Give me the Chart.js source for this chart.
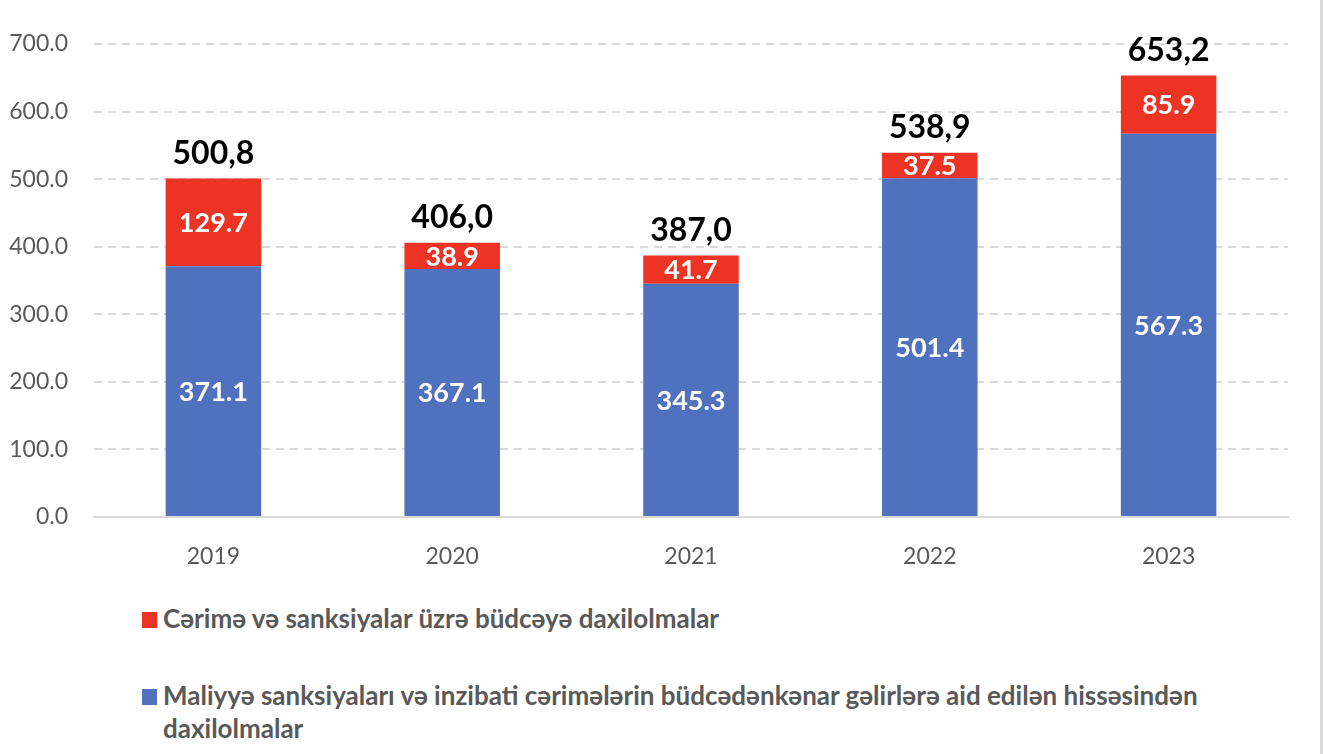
<!DOCTYPE html>
<html>
<head>
<meta charset="utf-8">
<script src="https://cdn.jsdelivr.net/npm/chart.js@4/dist/chart.umd.min.js"></script>
<style>
  body { margin: 0; background: #fff; font-family: Lato, "Open Sans", sans-serif; }
  #wrap { position: relative; width: 1323px; height: 754px; overflow: hidden; }
  #box { position: absolute; left: 0; top: 0; width: 1323px; height: 580px; }
  #edge { position: absolute; left: 1320px; top: 0; width: 3px; height: 754px; background: #d9d9d9; }
  .leg { position: absolute; left: 142px; color: #595959; font-weight: bold; font-size: 26px; line-height: 33px; white-space: nowrap; }
  .leg i { display: inline-block; width: 15px; height: 16px; margin-right: 6px; vertical-align: 0px; }
</style>
</head>
<body>
<div id="wrap">
  <div id="box"><canvas id="chart"></canvas></div>
  <div id="edge"></div>
  <div class="leg" style="top:602px"><i style="background:#EC3324"></i>Cərimə və sanksiyalar üzrə büdcəyə daxilolmalar</div>
  <div class="leg" style="top:679px"><i style="background:#5071BE"></i>Maliyyə sanksiyaları və inzibati cərimələrin büdcədənkənar gəlirlərə aid edilən hissəsindən<br><span style="padding-left:21px">daxilolmalar</span></div>
</div>
<script>
// illər
const years = ['2019', '2020', '2021', '2022', '2023'];
// büdcədənkənar gəlirlər (mavi)
const blueValues = [371.1, 367.1, 345.3, 501.4, 567.3];
// cərimə və sanksiyalar (qırmızı)
const redValues = [129.7, 38.9, 41.7, 37.5, 85.9];
const blueName = 'Maliyyə sanksiyaları və inzibati cərimələrin büdcədənkənar gəlirlərə aid edilən hissəsindən daxilolmalar';
const redName = 'Cərimə və sanksiyalar üzrə büdcəyə daxilolmalar';

const labelPlugin = {
  id: 'barLabels',
  afterDatasetsDraw: function(chart) {
    const ctx = chart.ctx;
    ctx.save();
    ctx.textAlign = 'center';
    ctx.textBaseline = 'middle';
    ctx.fillStyle = '#fff';
    ctx.font = 'bold 27px Lato, "Open Sans", sans-serif';
    chart.data.datasets.forEach((ds, i) => {
      chart.getDatasetMeta(i).data.forEach((bar, j) => {
        const mid = (bar.y + bar.base) / 2;
        ctx.fillText(ds.data[j].toFixed(1), bar.x, mid + 1);
      });
    });
    // cəm yuxarıda
    ctx.fillStyle = '#000';
    ctx.font = 'bold 32px Lato, "Open Sans", sans-serif';
    ctx.textBaseline = 'bottom';
    const top = chart.getDatasetMeta(1).data;
    top.forEach((bar, j) => {
      const total = (blueValues[j] + redValues[j]).toFixed(1).replace('.', ',');
      ctx.fillText(total, bar.x, bar.y - 9);
    });
    ctx.restore();
  }
};

const ctx1 = document.getElementById('chart').getContext('2d');
const myChart = new Chart(ctx1, {
  type: 'bar',
  data: {
    labels: years,
    datasets: [
      { label: blueName, data: blueValues, backgroundColor: '#5071BE', categoryPercentage: 0.8, barPercentage: 0.5 },
      { label: redName, data: redValues, backgroundColor: '#EC3324', categoryPercentage: 0.8, barPercentage: 0.5 }
    ]
  },
  options: {
    responsive: true,
    maintainAspectRatio: false,
    animation: false,
    layout: { padding: { top: 44, right: 35, left: 0, bottom: 0 } },
    plugins: {
      legend: { display: false },
      tooltip: { enabled: false }
    },
    scales: {
      x: {
        stacked: true,
        grid: { display: false },
        border: { color: '#d9d9d9', width: 2 },
        ticks: { color: '#595959', font: { size: 23, family: 'Lato' }, padding: 18 },
        afterFit: s => { s.height = 63; }
      },
      y: {
        stacked: true,
        min: 0,
        max: 700,
        ticks: {
          stepSize: 100,
          color: '#595959',
          font: { size: 23, family: 'Lato' },
          padding: 26,
          callback: v => v.toFixed(1)
        },
        grid: { color: '#d9d9d9', lineWidth: 2, drawTicks: false },
        border: { display: false, dash: [8, 6] },
        afterFit: s => { s.width = 94; }
      }
    }
  },
  plugins: [labelPlugin]
});
</script>
</body>
</html>
